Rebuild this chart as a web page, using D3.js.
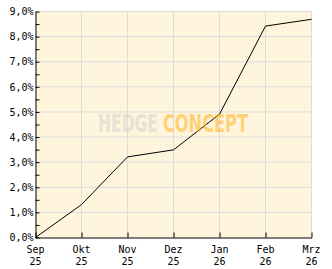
<!DOCTYPE html>
<html><head><meta charset="utf-8">
<script src="https://cdn.jsdelivr.net/npm/d3@7"></script>
<style>body{margin:0;background:#fff}svg{display:block}</style>
</head><body>
<script>
const months = ["Sep","Okt","Nov","Dez","Jan","Feb","Mrz"];
const years  = ["25","25","25","25","26","26","26"];
const values = [0.0, 1.31, 3.21, 3.49, 4.91, 8.42, 8.69];
const yTicks = [0,1,2,3,4,5,6,7,8,9];
const yMinorTicks = [0,0.5,1,1.5,2,2.5,3,3.5,4,4.5,5,5.5,6,6.5,7,7.5,8,8.5,9];

const W = 332, H = 269;
const svg = d3.select("body").append("svg").attr("width", W).attr("height", H);

const x = d3.scalePoint().domain(months).range([35.5, 311.5]);
const y = d3.scaleLinear().domain([0, 9]).range([237.5, 11.5]);

// plot background
svg.append("rect").attr("x", 35.5).attr("y", 11.5)
  .attr("width", 276).attr("height", 226).attr("fill", "#fff5dd");

// grid
svg.append("g").selectAll("line").data(yTicks.slice(1)).join("line")
  .attr("x1", 35.5).attr("x2", 311.5).attr("y1", d => y(d)).attr("y2", d => y(d))
  .attr("stroke", "#dcdcdc").attr("stroke-width", 1);
svg.append("g").selectAll("line").data(months.slice(1)).join("line")
  .attr("x1", d => x(d)).attr("x2", d => x(d)).attr("y1", 11.5).attr("y2", 237.5)
  .attr("stroke", "#dcdcdc").attr("stroke-width", 1);

// line
const line = d3.line().x((d, i) => x(months[i])).y(d => y(d));
svg.append("path").datum(values).attr("d", line)
  .attr("fill", "none").attr("stroke", "#000").attr("stroke-width", 1);

// watermark on top, semi-transparent
const wm = svg.append("g").attr("transform", "translate(98,132) scale(1,1.38)")
  .attr("font-family", "'DejaVu Sans Condensed','DejaVu Sans'")
  .attr("font-weight", "bold").attr("font-size", 18);
wm.append("text").attr("x", 0).attr("y", 0).attr("textLength", 60)
  .attr("lengthAdjust", "spacingAndGlyphs").attr("fill", "#cfcfcf").attr("fill-opacity", 0.5).text("HEDGE");
wm.append("text").attr("x", 65).attr("y", 0).attr("textLength", 85)
  .attr("lengthAdjust", "spacingAndGlyphs").attr("fill", "#ffb830").attr("fill-opacity", 0.6).text("CONCEPT");

// y axis
const yAxis = d3.axisLeft(y).tickValues(yMinorTicks).tickSizeInner(-4).tickSizeOuter(0)
  .tickFormat(d => Number.isInteger(d) ? d.toFixed(1).replace(".", ",") + "%" : "");
const gy = svg.append("g").attr("transform", "translate(35.5,0)").call(yAxis);
gy.select(".domain").attr("stroke", "#000");
gy.selectAll(".tick line").attr("stroke", "#000");
gy.selectAll(".tick text").attr("x", -2).attr("font-family", "'DejaVu Sans Mono'")
  .attr("font-size", 10).attr("fill", "#000");

// x axis
const xAxis = d3.axisBottom(x).tickSizeInner(-5).tickSizeOuter(0).tickFormat("");
const gx = svg.append("g").attr("transform", "translate(0,237.5)").call(xAxis);
gx.select(".domain").attr("stroke", "#000");
gx.selectAll(".tick line").attr("stroke", "#000");
const lbl = svg.append("g").attr("font-family", "'DejaVu Sans Mono'").attr("font-size", 10)
  .attr("text-anchor", "middle").attr("fill", "#000");
lbl.selectAll("text.m").data(months).join("text").attr("class", "m")
  .attr("x", d => x(d)).attr("y", 253).text(d => d);
lbl.selectAll("text.yr").data(months).join("text").attr("class", "yr")
  .attr("x", d => x(d)).attr("y", 265).text((d, i) => years[i]);
</script>
</body></html>
